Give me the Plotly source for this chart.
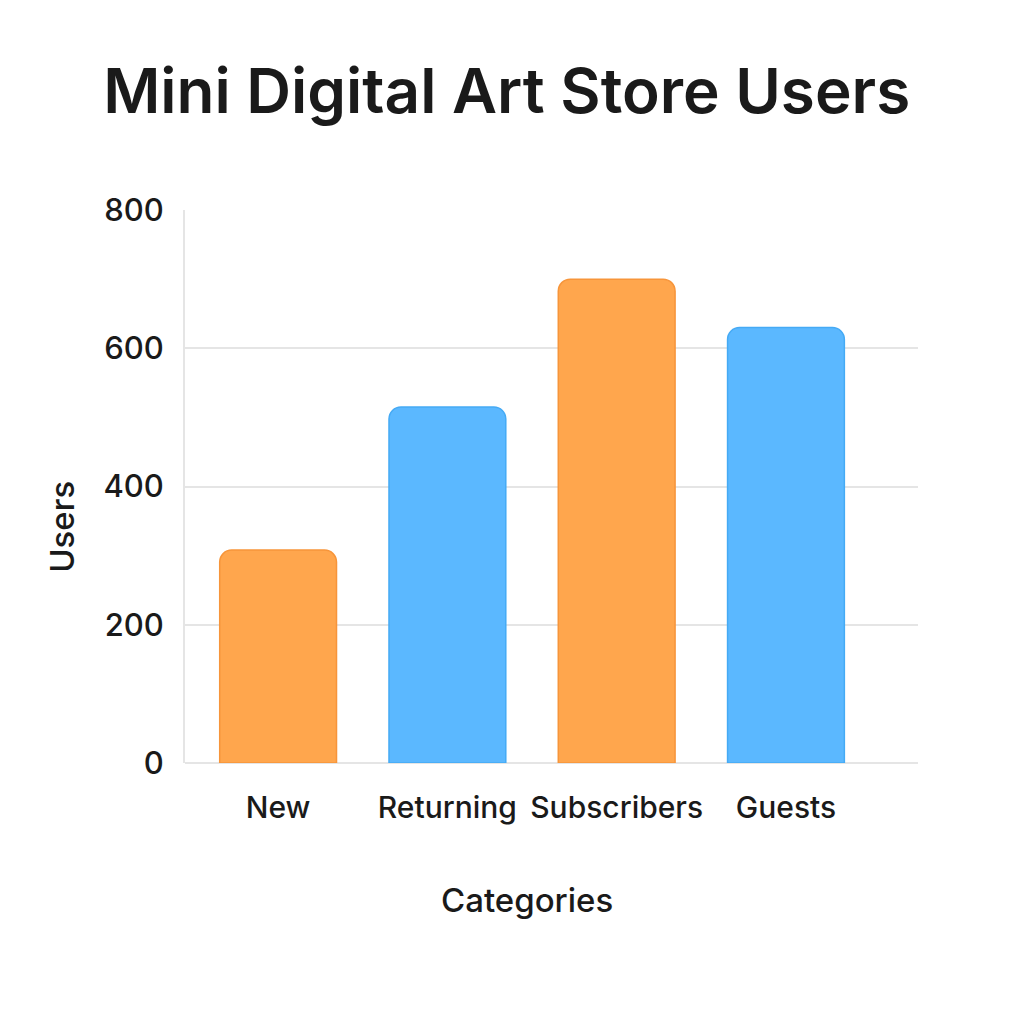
import plotly.graph_objects as go

categories = ["New", "Returning", "Subscribers", "Guests"]
users = [308, 515, 700, 630]
bar_colors = ["#FFA64D", "#5BB8FF", "#FFA64D", "#5BB8FF"]
line_colors = ["#F7953A", "#45AAF5", "#F7953A", "#45AAF5"]
y_ticks = [0, 200, 400, 600, 800]

fig = go.Figure(go.Bar(
    x=categories, y=users,
    marker=dict(color=bar_colors, line=dict(color=line_colors, width=1.5), cornerradius=12),
    width=0.69,
))

fig.update_layout(
    width=1024, height=1024,
    paper_bgcolor="white", plot_bgcolor="white",
    margin=dict(l=177, r=114, t=202, b=269),
    font=dict(family="Inter, Roboto, sans-serif", color="#1a1a1a"),
    title=dict(text="Mini Digital Art Store Users", x=0.487, xanchor="center", y=0.919, yanchor="middle",
               font=dict(size=62, color="#1a1a1a", family="Inter, Roboto, sans-serif", weight=600)),
    showlegend=False,
    annotations=[
        dict(text="Categories", xref="paper", yref="paper", x=0.4666, y=-0.2477,
             xanchor="center", yanchor="middle", showarrow=False,
             font=dict(size=33, weight=500, color="#1a1a1a")),
        dict(text="Users", xref="paper", yref="paper", x=-0.168, y=0.4268, textangle=-90,
             xanchor="center", yanchor="middle", showarrow=False,
             font=dict(size=33, weight=500, color="#1a1a1a")),
    ],
)
fig.update_xaxes(
    range=[-0.55, 3.78],
    showgrid=False, showline=False, ticks="",
    tickfont=dict(size=30, weight=500), ticklabelstandoff=24,
)
fig.update_yaxes(
    range=[0, 800], tickvals=y_ticks,
    showgrid=True, gridcolor="#E5E5E5", gridwidth=2,
    showline=True, linecolor="#E5E5E5", linewidth=2,
    zeroline=True, zerolinecolor="#E5E5E5", zerolinewidth=2,
    ticks="", tickfont=dict(size=31, weight=500), ticklabelstandoff=13,
)

fig.write_html("out.html")
